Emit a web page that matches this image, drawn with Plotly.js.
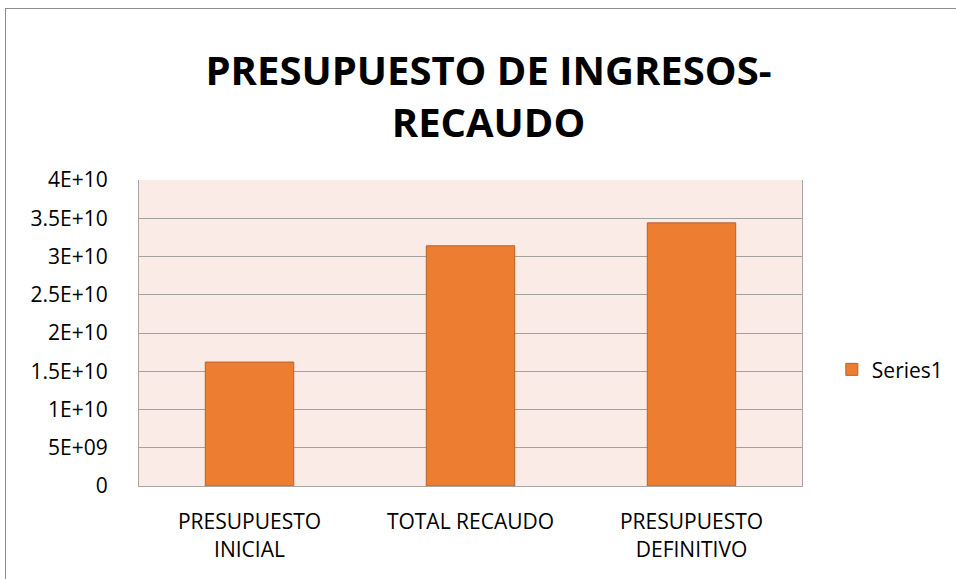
<!DOCTYPE html>
<html>
<head>
<meta charset="utf-8">
<script src="https://cdn.plot.ly/plotly-3.0.1.min.js"></script>
<style>
html,body{margin:0;padding:0;background:#fff;}
#wrap{position:relative;width:956px;height:579px;overflow:hidden;}
#chart{position:absolute;left:0;top:0;width:956px;height:579px;}
#frame{position:absolute;left:5px;top:8px;width:2000px;height:2000px;border:1px solid #8c8c8c;pointer-events:none;}
</style>
</head>
<body>
<div id="wrap"><div id="chart"></div><div id="frame"></div></div>
<script>
const categories = ['PRESUPUESTO<br>INICIAL', 'TOTAL RECAUDO', 'PRESUPUESTO<br>DEFINITIVO'];
const values = [1.62e10, 3.14e10, 3.44e10];
const seriesName = 'Series1';
const yTickVals = [0, 5e9, 1e10, 1.5e10, 2e10, 2.5e10, 3e10, 3.5e10, 4e10];
const yTickText = ['0', '5E+09', '1E+10', '1.5E+10', '2E+10', '2.5E+10', '3E+10', '3.5E+10', '4E+10'];
const titleText = 'PRESUPUESTO DE INGRESOS-<br>RECAUDO';

const font = '"Open Sans", "Noto Sans", sans-serif';

const data = [{
  type: 'bar',
  x: categories,
  y: values,
  name: seriesName,
  showlegend: true,
  marker: {color: '#ED7D31', line: {color: '#B9612A', width: 1}},
  hoverinfo: 'x+y'
}];

const layout = {
  width: 956, height: 579,
  margin: {l: 139, r: 154, t: 180, b: 93, pad: 0, autoexpand: false},
  paper_bgcolor: 'rgba(0,0,0,0)',
  plot_bgcolor: '#FAEBE6',
  bargap: 0.6,
  font: {family: font, color: '#000', size: 20},
  title: {
    text: titleText,
    font: {family: font, size: 40, color: '#000', weight: 'bold'},
    xref: 'container', x: 0.511, xanchor: 'center',
    yref: 'container', y: 1 - 85/579, yanchor: 'top'
  },
  xaxis: {
    showgrid: false, zeroline: false,
    showline: true, linecolor: '#A6A6A6', linewidth: 1,
    ticks: '', tickfont: {family: font, size: 21, color: '#000'},
    ticklabelstandoff: 17, fixedrange: true
  },
  yaxis: {
    range: [0, 4e10],
    tickmode: 'array', tickvals: yTickVals, ticktext: yTickText,
    showgrid: true, gridcolor: '#A0A0A0', gridwidth: 1,
    zeroline: false, showline: true, linecolor: '#A6A6A6', linewidth: 1,
    mirror: true,
    ticks: '', tickfont: {family: font, size: 21, color: '#000'},
    ticklabelstandoff: 26, fixedrange: true
  },
  legend: {
    x: 1.045, xanchor: 'left', y: 0.38, yanchor: 'middle',
    font: {family: font, size: 21, color: '#000'},
    bgcolor: 'rgba(0,0,0,0)'
  }
};

Plotly.newPlot('chart', data, layout, {displayModeBar: false, staticPlot: true});
</script>
</body>
</html>
